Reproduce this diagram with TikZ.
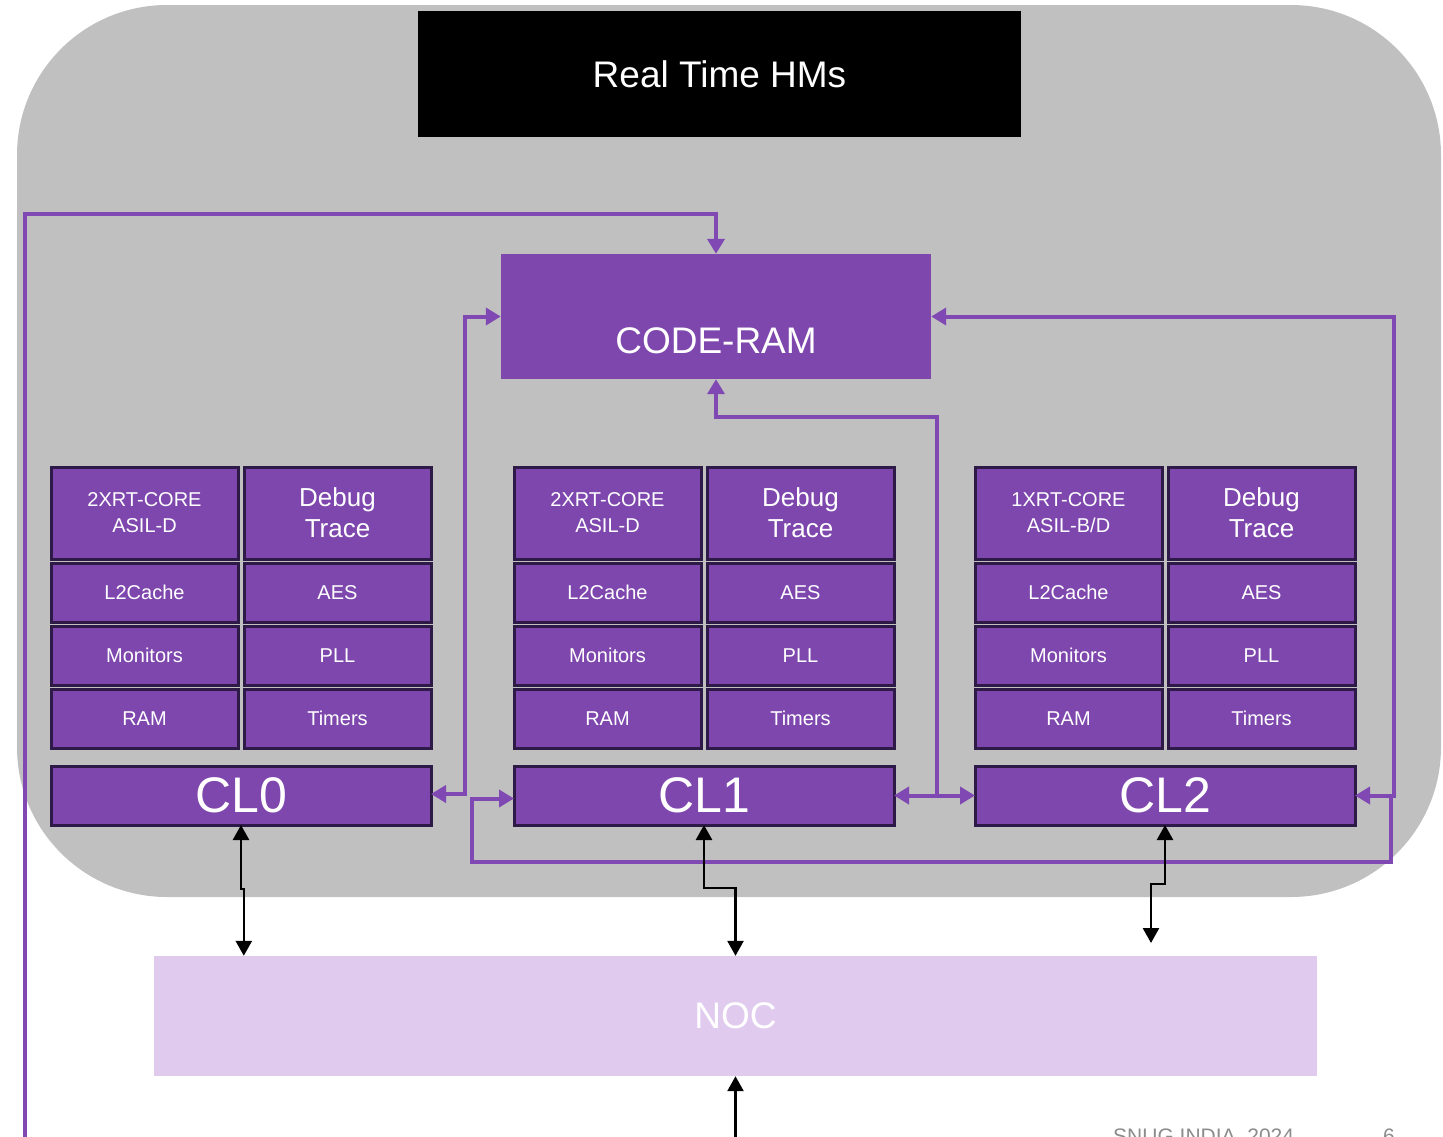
\documentclass[tikz,border=0pt]{standalone}
\usepackage{fontspec}
\setmainfont{Liberation Sans}
\usetikzlibrary{arrows.meta}

\definecolor{bggray}{HTML}{C0C0C0}
\definecolor{cellfill}{HTML}{7E47AD}
\definecolor{cellrim}{HTML}{2E1A47}
\definecolor{wirep}{HTML}{7F48B2}
\definecolor{nocfill}{HTML}{E0CBEE}
\definecolor{footgray}{HTML}{8C8C8C}

\tikzset{
  cellbox/.style={draw=cellrim, line width=3pt, fill=cellfill, text=white,
    inner sep=0pt, outer sep=0pt, align=center, font=\fontsize{20}{26}\selectfont},
  bigcell/.style={cellbox, font=\fontsize{26}{31}\selectfont},
  clbar/.style={cellbox, font=\fontsize{50}{56}\selectfont},
  pline/.style={draw=wirep, line width=4pt,
    arrows={-}, >={Triangle[length=15pt,width=17pt]}},
  bline/.style={draw=black, line width=2.5pt,
    >={Triangle[length=15pt,width=16pt]}},
}

% cell: name, left x, top y, width, height, text, style
\newcommand\mkcell[7]{%
  \node[#7, minimum width=#4pt, minimum height=#5pt]
    (#1) at ({#2+#4/2},{#3+#5/2}) {#6};}

\begin{document}
\begin{tikzpicture}[x=1pt,y=-1pt]
\useasboundingbox (0,0) rectangle (1443,1136);

% housing
\fill[bggray, rounded corners=150pt] (17,5) rectangle (1441,897);

% title bar
\node[fill=black, text=white, minimum width=603pt, minimum height=126pt,
  inner sep=0pt, font=\fontsize{37}{40}\selectfont] (title) at (719.5,74) {Real Time HMs};

% shared code memory
\node[fill=cellfill, minimum width=430pt, minimum height=125pt, inner sep=0pt]
  (coderam) at (716,316.5) {};
\node[text=white, font=\fontsize{37}{40}\selectfont] (ramtext)
  at ([yshift=-24pt]coderam.center) {CODE-RAM};

% network on chip
\node[fill=nocfill, text=white, minimum width=1163pt, minimum height=120pt,
  inner sep=0pt, font=\fontsize{37}{40}\selectfont] (noc) at (735.5,1016) {NOC};

% the three clusters
\foreach \g/\xo/\core in {0/51/{2XRT-CORE\\ASIL-D},
                          1/514/{2XRT-CORE\\ASIL-D},
                          2/975/{1XRT-CORE\\ASIL-B/D}} {
  \mkcell{core\g}{\xo}{467}{187}{92}{\core}{cellbox}
  \mkcell{dbg\g}{\xo+193}{467}{187}{92}{Debug\\Trace}{bigcell}
  \mkcell{l2c\g}{\xo}{563}{187}{59}{L2Cache}{cellbox}
  \mkcell{aes\g}{\xo+193}{563}{187}{59}{AES}{cellbox}
  \mkcell{mon\g}{\xo}{626}{187}{59}{Monitors}{cellbox}
  \mkcell{pll\g}{\xo+193}{626}{187}{59}{PLL}{cellbox}
  \mkcell{ram\g}{\xo}{689}{187}{59}{RAM}{cellbox}
  \mkcell{tmr\g}{\xo+193}{689}{187}{59}{Timers}{cellbox}
  \mkcell{cl\g}{\xo}{766}{380}{59}{CL\g}{clbar}
}

% purple interconnect
\coordinate (feed) at (25,1160);
\draw[pline,->] (feed) |- ([yshift=40pt]coderam.north) -- (coderam.north);
\draw[pline,<->] ([yshift=1.5pt]cl0.east) -| ([xshift=-36pt]coderam.west) -- (coderam.west);
\draw[pline,->] ([xshift=36pt]cl2.east) |- (472,862) |- ([yshift=-3pt]cl1.west);
\draw[pline,<->] (cl1.east) -| (937,417) -| (coderam.south);
\draw[pline,->] ([xshift=43pt]cl1.east) -- (cl2.west);
\draw[pline,<->] (coderam.east) -| ([xshift=39pt]cl2.east) -- (cl2.east);

% black links to the NOC
\coordinate (cl2drop) at (1151,943);
\coordinate (nocfeed) at (735.5,1160);
\draw[bline,<->] (cl0.south) -- ++(0,64) -| ([xshift=90pt]noc.north west);
\draw[bline,<->] (cl1.south) -- ++(0,63) -| (noc.north);
\draw[bline,<->] (cl2.south) -- ++(0,59) -| (cl2drop);
\draw[bline,->] (nocfeed) -- (noc.south);

% footer
\node[anchor=base west, text=footgray, inner sep=0pt,
  font=\fontsize{21}{24}\selectfont] (foot) at (1113,1143) {SNUG INDIA, 2024};
\node[anchor=base west, text=footgray, inner sep=0pt,
  font=\fontsize{21}{24}\selectfont] (pgno) at (1383,1143) {6};
\end{tikzpicture}
\end{document}
